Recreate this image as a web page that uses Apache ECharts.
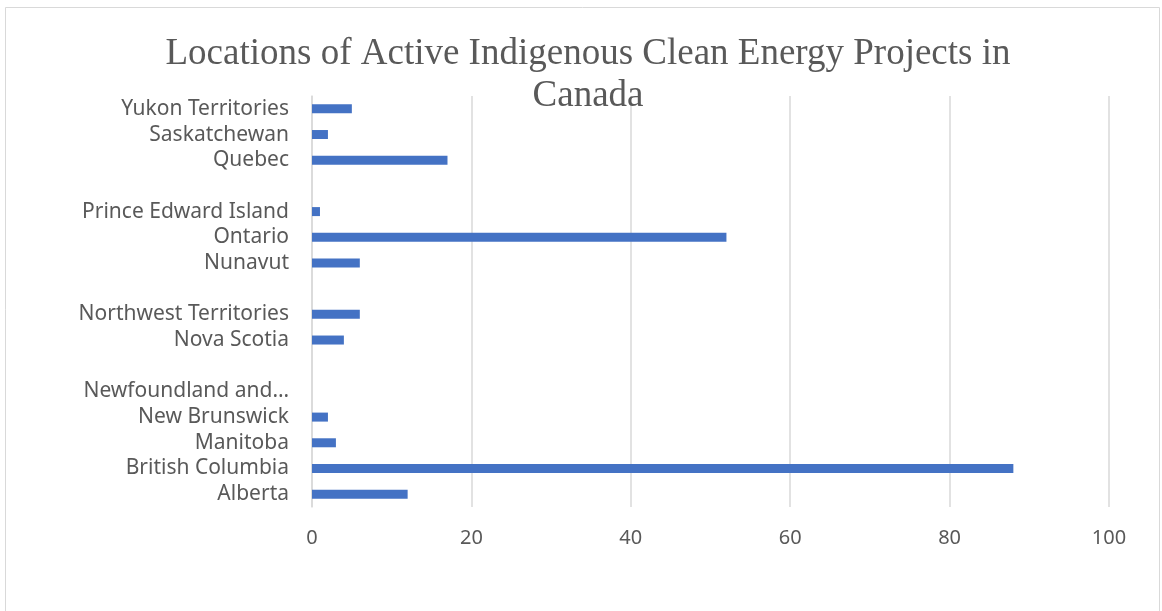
<!DOCTYPE html>
<html>
<head>
<meta charset="utf-8">
<script src="https://cdn.jsdelivr.net/npm/echarts@6/dist/echarts.min.js"></script>
<style>
  html, body { margin: 0; padding: 0; background: #fff; }
  #chart { width: 1162px; height: 611px; }
</style>
</head>
<body>
<div id="chart"></div>
<script>
// bottom to top, blanks are the empty rows in the sheet
var provinces = ['Alberta', 'British Columbia', 'Manitoba', 'New Brunswick', 'Newfoundland and Labrador', ' ',
  'Nova Scotia', 'Northwest Territories', '  ', 'Nunavut', 'Ontario', 'Prince Edward Island', '   ',
  'Quebec', 'Saskatchewan', 'Yukon Territories'];
var projects = [12, 88, 3, 2, 0, '-', 4, 6, '-', 6, 52, 1, '-', 17, 2, 5];
var xTicks = [0, 20, 40, 60, 80, 100];

var myChart = echarts.init(document.getElementById('chart'));
var option = {
  backgroundColor: '#fff',
  title: {
    text: 'Locations of Active Indigenous Clean Energy Projects in\nCanada',
    left: 583,
    top: 28,
    textAlign: 'center',
    textStyle: {
      fontFamily: 'Liberation Serif',
      fontWeight: 'normal',
      fontSize: 37,
      lineHeight: 42,
      color: '#595959'
    }
  },
  graphic: [{
    type: 'rect',
    shape: { x: 5.5, y: 7.5, width: 1154, height: 620 },
    style: { fill: 'none', stroke: '#d9d9d9', lineWidth: 1 },
    silent: true
  }],
  grid: { left: 312, right: 53, top: 96, bottom: 104 },
  xAxis: {
    type: 'value',
    min: xTicks[0],
    max: xTicks[xTicks.length - 1],
    interval: 20,
    axisLine: { show: false },
    axisTick: { show: false },
    splitLine: { lineStyle: { color: '#d9d9d9', width: 1.5 } },
    axisLabel: {
      margin: 21,
      fontFamily: 'Noto Sans',
      fontSize: 20,
      color: '#595959'
    }
  },
  yAxis: {
    type: 'category',
    data: provinces,
    axisLine: { show: true, lineStyle: { color: '#d9d9d9', width: 1.5 } },
    axisTick: { show: false },
    axisLabel: {
      margin: 23,
      interval: 0,
      fontFamily: 'Noto Sans',
      fontSize: 21,
      color: '#595959',
      formatter: function (v) {
        return v === 'Newfoundland and Labrador' ? 'Newfoundland and…' : v;
      }
    }
  },
  series: [{
    type: 'bar',
    data: projects,
    barWidth: 9,
    itemStyle: { color: '#4472C4' }
  }]
};
myChart.setOption(option);
</script>
</body>
</html>
